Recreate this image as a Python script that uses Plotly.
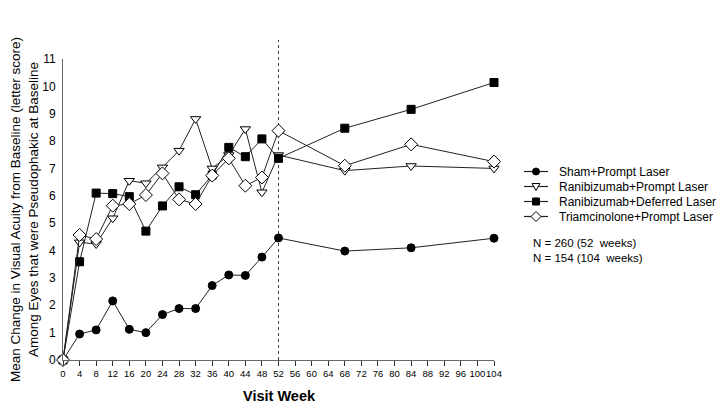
import plotly.graph_objects as go

weeks = [0, 4, 8, 12, 16, 20, 24, 28, 32, 36, 40, 44, 48, 52, 68, 84, 104]
sham = [0, 0.95, 1.10, 2.16, 1.12, 1.00, 1.66, 1.88, 1.88, 2.72, 3.11, 3.09, 3.76, 4.46, 3.98, 4.10, 4.45]
rani_prompt = [0, 4.30, 4.24, 5.18, 6.55, 6.46, 7.04, 7.65, 8.81, 7.00, 7.49, 8.44, 6.13, 7.49, 6.92, 7.09, 7.00]
rani_deferred = [0, 3.59, 6.10, 6.08, 5.97, 4.71, 5.63, 6.33, 6.04, 6.76, 7.77, 7.43, 8.08, 7.37, 8.47, 9.16, 10.14]
triam = [0, 4.57, 4.42, 5.64, 5.70, 6.03, 6.82, 5.87, 5.70, 6.74, 7.37, 6.37, 6.67, 8.38, 7.10, 7.88, 7.25]

series_names = ["Sham+Prompt Laser", "Ranibizumab+Prompt Laser",
                "Ranibizumab+Deferred Laser", "Triamcinolone+Prompt Laser"]
x_ticks = list(range(0, 105, 4))
y_ticks = list(range(0, 12))
notes = ["N = 260 (52  weeks)", "N = 154 (104  weeks)"]

FONT = "Liberation Sans, Arial"
LINE_COL = "#222222"

styles = [
    dict(symbol="circle", size=8, color="black", line=dict(color="black", width=1)),
    dict(symbol="triangle-down", size=9, color="white", line=dict(color="black", width=1)),
    dict(symbol="square", size=8, color="black", line=dict(color="black", width=1)),
    dict(symbol="diamond", size=10, color="white", line=dict(color="black", width=1)),
]

fig = go.Figure()
for name, vals, st in zip(series_names, [sham, rani_prompt, rani_deferred, triam], styles):
    fig.add_trace(go.Scatter(
        x=weeks, y=vals, name=name, mode="lines+markers",
        line=dict(color=LINE_COL, width=1),
        marker=st, cliponaxis=False, showlegend=False,
    ))

fig.add_shape(type="line", xref="x", yref="paper", x0=52, x1=52, y0=0, y1=1.063,
              line=dict(color="#444444", width=1, dash="3px,3px"), layer="below")

# manual legend (plot area on the page: x 63..494 px, y 59..360 px)
def px(x):
    return (x - 63) / 431.0

def py(y):
    return (360 - y) / 301.0

legend_rows = [171.5, 186.5, 201.5, 216.5]
for name, st, ry in zip(series_names, styles, legend_rows):
    fig.add_shape(type="line", xref="paper", yref="paper", x0=px(524), x1=px(548), y0=py(ry), y1=py(ry),
                  line=dict(color=LINE_COL, width=1.2))
    sym = st["symbol"]
    fill = st["color"]
    common = dict(xref="paper", yref="paper", xsizemode="pixel", ysizemode="pixel",
                  xanchor=px(536), yanchor=py(ry), fillcolor=fill,
                  line=dict(color="black", width=1))
    if sym == "circle":
        fig.add_shape(type="circle", x0=-3.5, x1=3.5, y0=-3.5, y1=3.5, **common)
    elif sym == "square":
        fig.add_shape(type="rect", x0=-3.5, x1=3.5, y0=-3.5, y1=3.5, **common)
    elif sym == "triangle-down":
        fig.add_shape(type="path", path="M-4,3 L4,3 L0,-4 Z", **common)
    else:
        fig.add_shape(type="path", path="M0,-5 L5,0 L0,5 L-5,0 Z", **common)
    fig.add_annotation(text=name, xref="paper", yref="paper", x=px(557), y=py(ry),
                       xanchor="left", yanchor="middle", showarrow=False,
                       font=dict(family=FONT, size=12, color="black"))

for i, t in enumerate(notes):
    fig.add_annotation(text=t, xref="paper", yref="paper", x=px(531), y=py(243 + i * 15),
                       xanchor="left", yanchor="middle", showarrow=False,
                       font=dict(family=FONT, size=11.5, color="black"))

fig.add_annotation(text="<b>Visit Week</b>", xref="paper", yref="paper", x=px(279), y=py(396),
                   xanchor="center", yanchor="middle", showarrow=False,
                   font=dict(family=FONT, size=14.5, color="black"))

# page body has an 8px margin, so the figure is offset by (8, 8)
fig.update_layout(
    width=726, height=408,
    margin=dict(l=55, r=240, t=51, b=56),
    paper_bgcolor="white", plot_bgcolor="white",
    showlegend=False,
    font=dict(family=FONT, color="black"),
)
fig.update_xaxes(range=[0, 104], tickvals=x_ticks, ticktext=[str(v) for v in x_ticks],
                 tickangle=0, ticks="outside", ticklen=5, tickcolor="#333333", automargin=False,
                 showline=True, linecolor="#666666", linewidth=1, showgrid=False, zeroline=False,
                 tickfont=dict(family=FONT, size=9.5, color="black"))
fig.update_yaxes(range=[0, 11], tickvals=y_ticks, ticks="", showline=True, linecolor="#666666",
                 linewidth=1, showgrid=False, zeroline=False, ticklabelstandoff=4, automargin=False,
                 tickfont=dict(family=FONT, size=12, color="black"),
                 title=dict(text="Mean Change in Visual Acuity from Baseline (letter score)<br>Among Eyes that were Pseudophakic at Baseline",
                            font=dict(family=FONT, size=13.5, color="black"), standoff=2))

fig.write_html("out.html")
